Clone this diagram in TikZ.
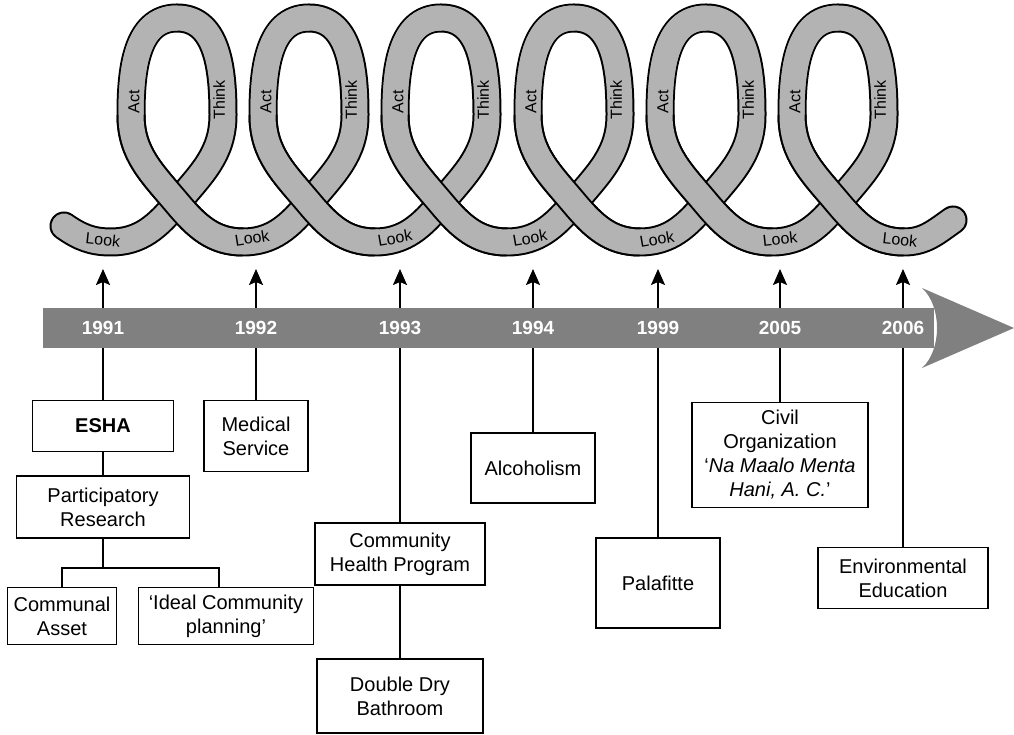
\documentclass[tikz,border=0pt]{standalone}
\usepackage{fontspec}
\setmainfont{Liberation Sans}
\usetikzlibrary{arrows.meta}
\definecolor{ribbongray}{RGB}{179,179,179}
\definecolor{bandgray}{RGB}{128,128,128}
\tikzset{
  box/.style={draw, line width=1.5pt, align=center, inner sep=0pt,
    font=\fontsize{20}{24}\selectfont},
  tick/.style={line width=1.8pt},
  uptick/.style={tick, -{Stealth[length=16pt,width=14pt,inset=3pt]}},
  year/.style={text=white, font=\fontsize{19}{22}\selectfont\bfseries},
  ribbon/.style={draw=black, line width=2pt, double=ribbongray,
    double distance=25pt, line cap=round},
  ribbon edge/.style={draw=black, line width=29pt, line cap=butt},
  ribbon core/.style={draw=ribbongray, line width=25pt, line cap=butt},
  cue/.style={font=\fontsize{16}{18}\selectfont, inner sep=0pt},
}
\begin{document}
\begin{tikzpicture}[x=1pt,y=1pt]
  \useasboundingbox (0,0) rectangle (1014,735);
  % events below the time line
  \node[box, minimum width=141pt, minimum height=51pt, font=\fontsize{20}{24}\selectfont\bfseries] (esha) at (103,309) {ESHA};
  \node[box, minimum width=173pt, minimum height=62pt] (partres) at (103,228) {Participatory\\Research};
  \node[box, minimum width=109pt, minimum height=57pt] (communal) at (62,119) {Communal\\Asset};
  \node[box, minimum width=175pt, minimum height=57pt] (ideal) at (226,119) {‘Ideal Community\\planning’};
  \node[box, minimum width=104pt, minimum height=71pt] (medical) at (256,299) {Medical\\Service};
  \node[box, minimum width=170pt, minimum height=62pt] (chp) at (400,181) {Community\\Health Program};
  \node[box, minimum width=166pt, minimum height=74pt] (ddb) at (400,39) {Double Dry\\Bathroom};
  \node[box, minimum width=124pt, minimum height=70pt] (alcohol) at (533,267) {Alcoholism};
  \node[box, minimum width=124pt, minimum height=90pt] (palafitte) at (658,152) {Palafitte};
  \node[box, minimum width=176pt, minimum height=105pt] (civil) at (780,280)
    {Civil\\Organization\\‘\textit{Na Maalo Menta}\\\textit{Hani, A. C.}’};
  \node[box, minimum width=170pt, minimum height=61pt] (enved) at (903,157) {Environmental\\Education};
  % arrow tips above the time line
  \coordinate (a1991) at (103,466);
  \coordinate (a1992) at (256,466);
  \coordinate (a1993) at (400,466);
  \coordinate (a1994) at (533,466);
  \coordinate (a1999) at (658,466);
  \coordinate (a2005) at (780,466);
  \coordinate (a2006) at (903,466);
  \coordinate (fork) at (103,167);
  \begin{scope}[tick]
    \draw (esha) -- (partres);
    \draw (partres) -- (fork);
    \draw (fork) -| (communal.north);
    \draw (fork) -| ([xshift=-7pt]ideal.north);
    \draw (chp) -- (ddb);
    \draw[uptick] (esha) -- (a1991);
    \draw[uptick] (medical) -- (a1992);
    \draw[uptick] (chp) -- (a1993);
    \draw[uptick] (alcohol) -- (a1994);
    \draw[uptick] (palafitte) -- (a1999);
    \draw[uptick] (civil) -- (a2005);
    \draw[uptick] (enved) -- (a2006);
  \end{scope}
  % time line
  \fill[bandgray] (43,387) rectangle (934,427);
  \fill[bandgray] (922,447) -- (1014,407) -- (922,367)
    .. controls (942,385) and (942,429) .. (922,447) -- cycle;
  \node[year] (y1991) at (103,407) {1991};
  \node[year] (y1992) at (256,407) {1992};
  \node[year] (y1993) at (400,407) {1993};
  \node[year] (y1994) at (533,407) {1994};
  \node[year] (y1999) at (658,407) {1999};
  \node[year] (y2005) at (780,407) {2005};
  \node[year] (y2006) at (903,407) {2006};
  % look - think - act spiral
  \draw[ribbon] (64,509) to[out=-35,in=180] (111,493)
    foreach \x in {177,309,441,574,706,838}{
      to[out=0,in=230] (\x,532)
      to[out=50,in=270] (\x+46,620)
      to[out=90,in=0] (\x,717)
      to[out=180,in=90] (\x-46,620)
      to[out=270,in=130] (\x,532)
      to[out=-50,in=180] (\x+66,493)
    }
    to[out=0,in=215] (953,515);
  % the falling strand passes over the rising one
  \foreach \x in {177,309,441,574,706,838}{
    \draw[ribbon edge] (\x-46,620) to[out=270,in=130] (\x,532)
      to[out=-50,in=180] (\x+66,493);
    \draw[ribbon core] (\x,717) to[out=180,in=90] (\x-46,620)
      to[out=270,in=130] (\x,532) to[out=-50,in=180] (\x+66,493) -- ++(4,0);
    \node[cue, rotate=90] at (\x-43,633) {Act};
    \node[cue, rotate=90] at (\x+42,635) {Think};
  }
  \node[cue, rotate=-6] (look0) at (103,495) {Look};
  \node[cue, rotate=9] (look1) at (252,497) {Look};
  \node[cue, rotate=10] (look2) at (395,497) {Look};
  \node[cue, rotate=10] (look3) at (530,497) {Look};
  \node[cue, rotate=10] (look4) at (657,496) {Look};
  \node[cue, rotate=6] (look5) at (780,496) {Look};
  \node[cue, rotate=-6] (look6) at (900,495) {Look};
\end{tikzpicture}
\end{document}
